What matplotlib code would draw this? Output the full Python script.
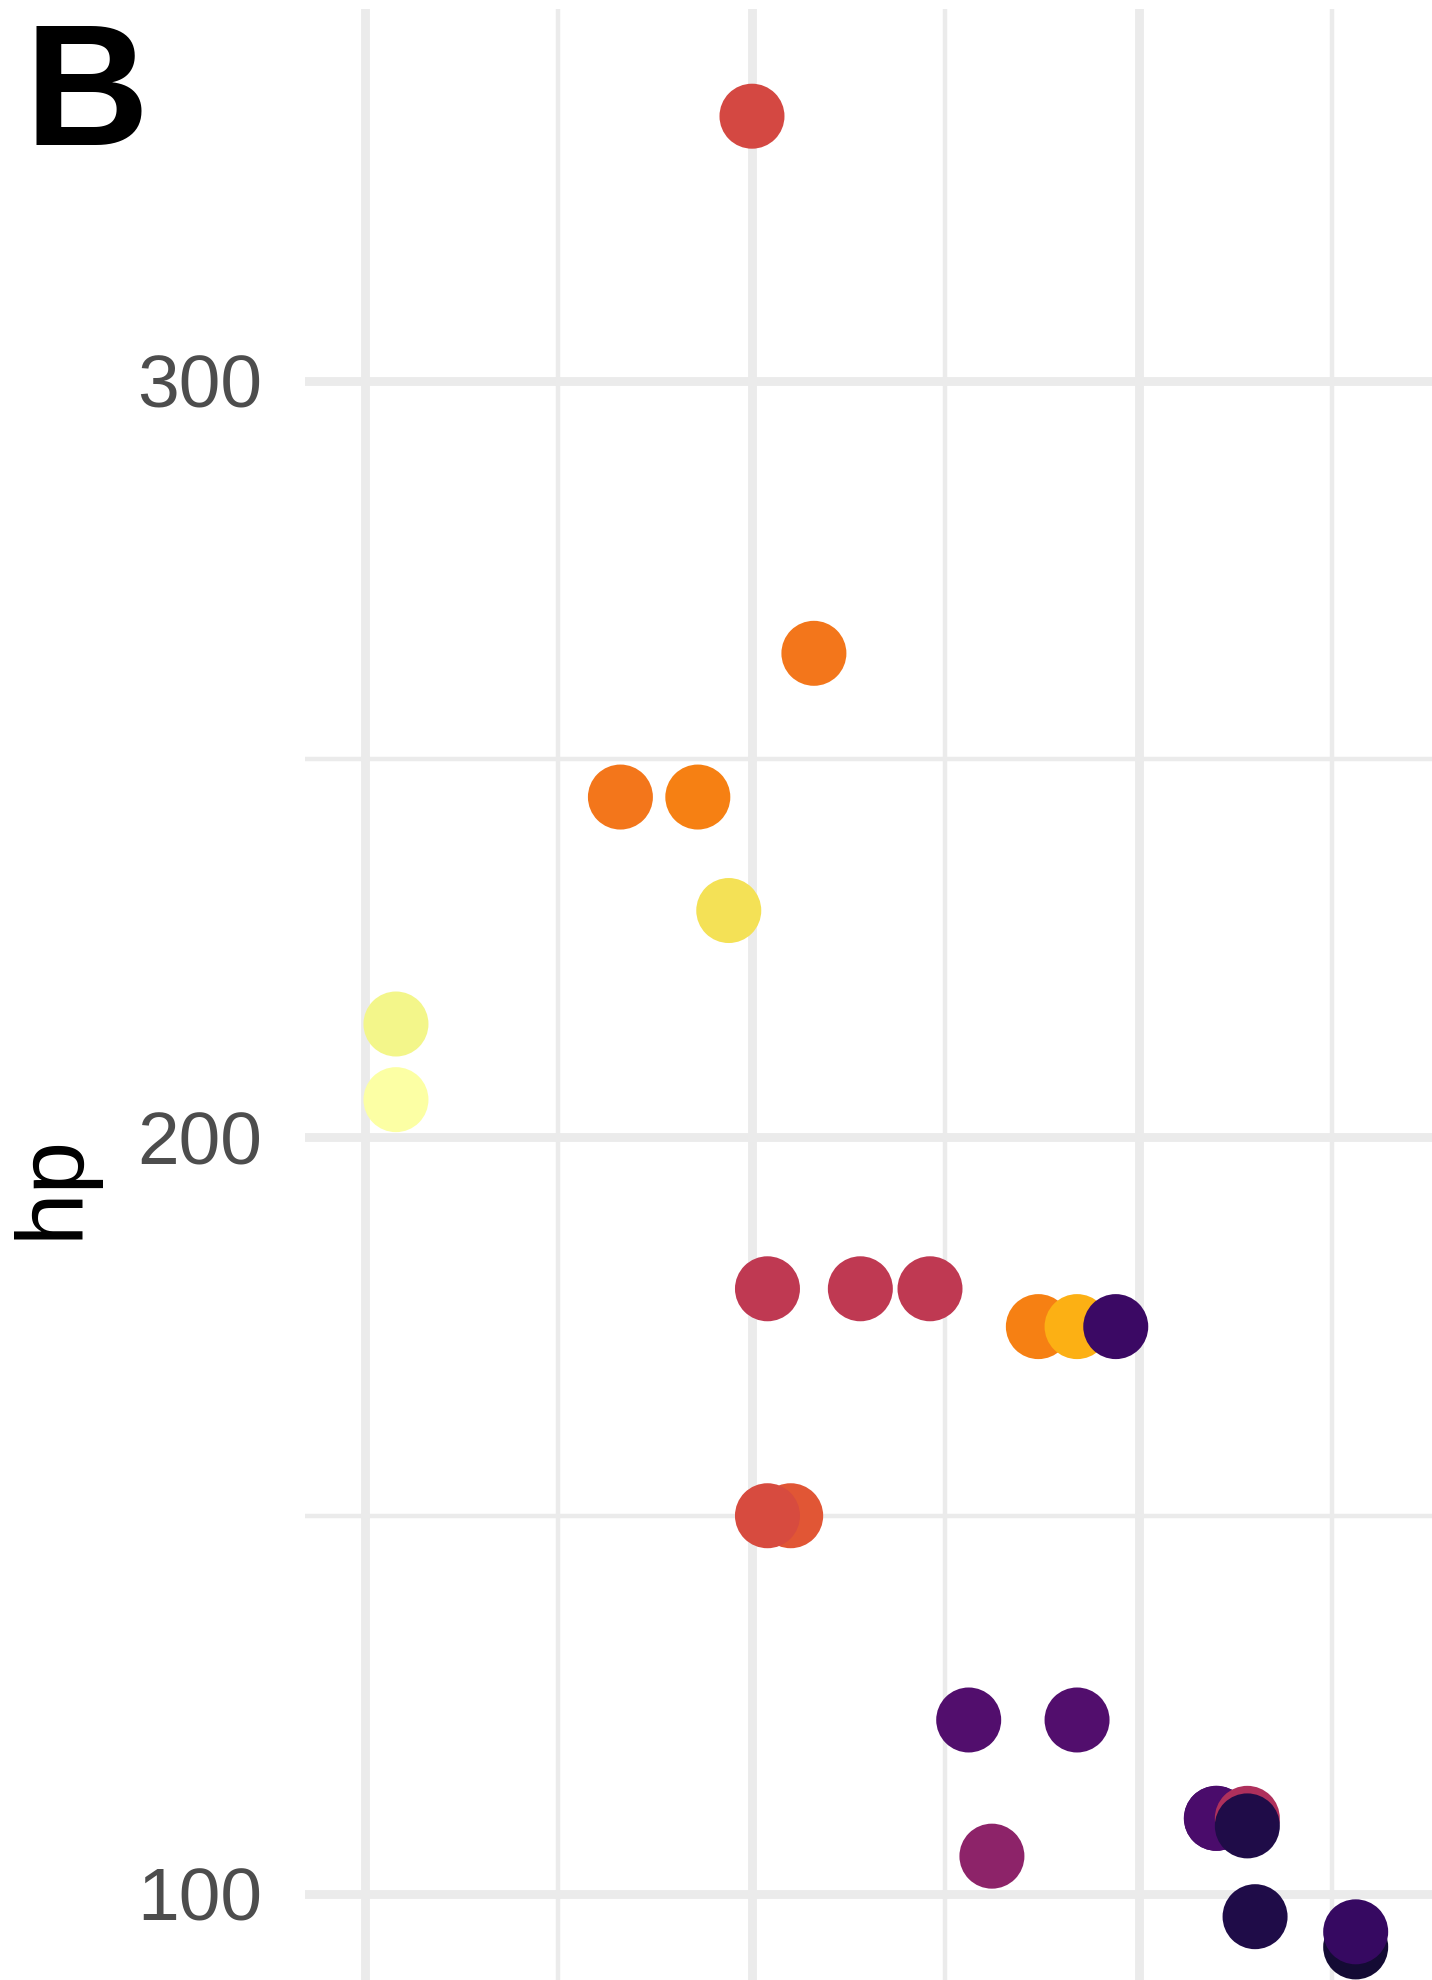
import matplotlib.pyplot as plt
from matplotlib.colors import Normalize

# mtcars: car, mpg, hp, disp (row order kept so overlapping points stack the same way)
cars = ["Mazda RX4", "Mazda RX4 Wag", "Datsun 710", "Hornet 4 Drive", "Hornet Sportabout",
        "Valiant", "Duster 360", "Merc 240D", "Merc 230", "Merc 280", "Merc 280C",
        "Merc 450SE", "Merc 450SL", "Merc 450SLC", "Cadillac Fleetwood", "Lincoln Continental",
        "Chrysler Imperial", "Fiat 128", "Honda Civic", "Toyota Corolla", "Toyota Corona",
        "Dodge Challenger", "AMC Javelin", "Camaro Z28", "Pontiac Firebird", "Fiat X1-9",
        "Porsche 914-2", "Lotus Europa", "Ford Pantera L", "Ferrari Dino", "Maserati Bora",
        "Volvo 142E"]
mpg = [21.0, 21.0, 22.8, 21.4, 18.7, 18.1, 14.3, 24.4, 22.8, 19.2, 17.8, 16.4, 17.3, 15.2,
       10.4, 10.4, 14.7, 32.4, 30.4, 33.9, 21.5, 15.5, 15.2, 13.3, 19.2, 27.3, 26.0, 30.4,
       15.8, 19.7, 15.0, 21.4]
hp = [110, 110, 93, 110, 175, 105, 245, 62, 95, 123, 123, 180, 180, 180, 205, 215, 230, 66,
      52, 65, 97, 150, 150, 245, 175, 66, 91, 113, 264, 175, 335, 109]
disp = [160, 160, 108, 258, 360, 225, 360, 146.7, 140.8, 167.6, 167.6, 275.8, 275.8, 275.8,
        472, 460, 440, 78.7, 75.7, 71.1, 120.1, 318, 304, 350, 400, 79, 120.3, 95.1, 351, 145,
        301, 121]

x_major = [10, 15, 20]
x_minor = [12.5, 17.5, 22.5]
y_major = [100, 200, 300]
y_minor = [150, 250]

W, H, DPI = 1432, 1980, 100
GRID = "#EBEBEB"

plt.rcParams['font.family'] = ['Liberation Sans', 'DejaVu Sans']

fig = plt.figure(figsize=(W / DPI, H / DPI), dpi=DPI)
fig.patch.set_facecolor("white")

# panel runs off the right and bottom edges of the canvas
left_px, top_px = 305, 9
ax = fig.add_axes([left_px / W, 0, (W - left_px) / W, (H - top_px) / H])

ax.scatter(mpg, hp, c=disp, cmap="inferno", norm=Normalize(min(disp), max(disp)),
           s=2190, linewidths=0, zorder=3)

ax.set_xticks(x_major)
ax.set_xticks(x_minor, minor=True)
ax.set_yticks(y_major)
ax.set_yticks(y_minor, minor=True)
ax.set_xticklabels([])
ax.set_yticklabels([str(v) for v in y_major])
ax.tick_params(which="both", length=0)
ax.tick_params(axis="y", pad=31, labelsize=54, labelcolor="#4D4D4D")
ax.grid(which="major", color=GRID, linewidth=6.4)
ax.grid(which="minor", color=GRID, linewidth=3.2)
ax.set_axisbelow(True)
for sp in ax.spines.values():
    sp.set_visible(False)

# limits last so tick setting does not widen them
ax.set_xlim(9.2248, 23.786)
ax.set_ylim(88.63, 349.17)

fig.text(9 / W, 1 - 1186 / H, "hp", rotation=90, ha="left", va="center", fontsize=68)
fig.text(24 / W, 1 - 20 / H, "B", ha="left", va="top", fontsize=124, fontweight="bold")

fig.savefig("out.png", dpi=DPI)
